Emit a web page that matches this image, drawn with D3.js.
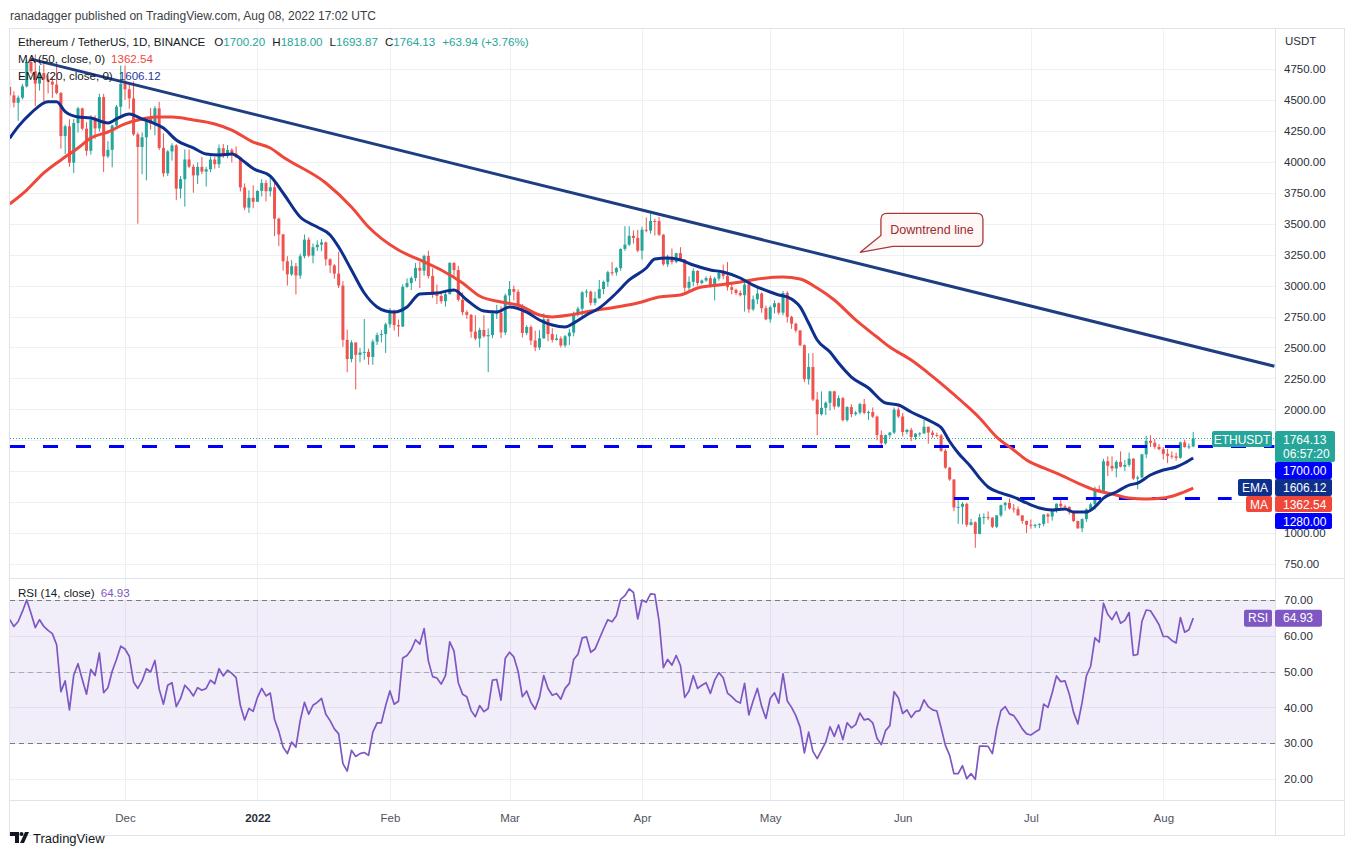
<!DOCTYPE html>
<html>
<head>
<meta charset="utf-8">
<script src="https://cdn.jsdelivr.net/npm/d3@7/dist/d3.min.js"></script>
<style>
  body { margin: 0; background: #fff; }
  text { font-family: "Liberation Sans", Arial, sans-serif; }
</style>
</head>
<body>
<svg id="chart" width="1351" height="856"></svg>
<script>
// ---- data: daily candles [day, open, high, low, close] per month ----
const candlesNov = [
  [4,4605,4669,4430,4537],[5,4537,4570,4440,4477],[6,4477,4536,4331,4518],[7,4518,4630,4505,4610],
  [8,4610,4822,4600,4807],[9,4807,4838,4713,4731],[10,4731,4868,4450,4632],[11,4632,4778,4576,4717],
  [12,4717,4808,4488,4666],[13,4666,4700,4552,4647],[14,4647,4680,4516,4624],[15,4624,4773,4545,4556],
  [16,4556,4564,4106,4208],[17,4208,4301,4063,4287],[18,4287,4343,3960,3993],[19,3993,4346,3909,4313],
  [20,4313,4445,4237,4432],[21,4432,4438,4255,4268],[22,4268,4320,4050,4089],[23,4089,4377,4058,4339],
  [24,4339,4375,4185,4270],[25,4270,4550,4245,4523],[26,4523,4550,3917,4044],[27,4044,4167,4030,4097],
  [28,4097,4300,3956,4294],[29,4294,4460,4280,4445],[30,4445,4778,4350,4631]
];
const candlesDec = [
  [1,4631,4778,4500,4586],[2,4586,4632,4428,4512],[3,4512,4650,4210,4222],[4,4222,4238,3500,4120],
  [5,4120,4238,3900,4198],[6,4198,4362,3850,4347],[7,4347,4435,4260,4308],[8,4308,4450,4215,4432],
  [9,4432,4485,4095,4112],[10,4112,4230,3880,3907],[11,3907,4095,3885,4084],[12,4084,4150,4010,4133],
  [13,4133,4142,3690,3783],[14,3783,3884,3705,3860],[15,3860,4100,3638,4019],[16,4019,4100,3950,3961],
  [17,3961,3980,3750,3890],[18,3890,3995,3820,3959],[19,3959,4040,3900,3921],[20,3921,3960,3800,3940],
  [21,3940,4045,3916,4018],[22,4018,4040,3945,3981],[23,3981,4140,3950,4110],[24,4110,4144,4030,4047],
  [25,4047,4135,4030,4096],[26,4096,4110,3995,4066],[27,4066,4125,4035,4037],[28,4037,4040,3760,3793],
  [29,3793,3825,3610,3630],[30,3630,3770,3588,3709],[31,3709,3810,3625,3677]
];
const candlesJan = [
  [1,3677,3770,3677,3765],[2,3765,3860,3720,3829],[3,3829,3852,3680,3762],[4,3762,3878,3720,3794],
  [5,3794,3842,3400,3540],[6,3540,3550,3318,3413],[7,3413,3418,3120,3196],[8,3196,3237,3000,3091],
  [9,3091,3205,3078,3156],[10,3156,3183,2928,3081],[11,3081,3257,3055,3237],[12,3237,3412,3220,3371],
  [13,3371,3390,3230,3242],[14,3242,3340,3180,3310],[15,3310,3365,3280,3330],[16,3330,3375,3278,3349],
  [17,3349,3356,3160,3212],[18,3212,3220,3100,3163],[19,3163,3173,3055,3096],[20,3096,3273,2980,3000],
  [21,3000,3036,2505,2561],[22,2561,2644,2300,2406],[23,2406,2557,2380,2540],[24,2540,2540,2160,2440],
  [25,2440,2495,2380,2459],[26,2459,2730,2400,2464],[27,2464,2490,2360,2423],[28,2423,2565,2360,2547],
  [29,2547,2620,2520,2600],[30,2600,2640,2541,2608],[31,2608,2700,2456,2687]
];
const candlesFeb = [
  [1,2687,2818,2660,2791],[2,2791,2806,2637,2680],[3,2680,2726,2587,2669],[4,2669,3010,2666,2990],
  [5,2990,3058,2982,3020],[6,3020,3074,2964,3061],[7,3061,3182,3035,3143],[8,3143,3191,2980,3120],
  [9,3120,3250,3080,3240],[10,3240,3282,3057,3077],[11,3077,3140,2900,2929],[12,2929,3009,2850,2916],
  [13,2916,2955,2853,2873],[14,2873,2950,2830,2930],[15,2930,3190,2930,3182],[16,3182,3190,3075,3125],
  [17,3125,3160,2872,2885],[18,2885,2945,2760,2785],[19,2785,2800,2730,2763],[20,2763,2770,2578,2628],
  [21,2628,2760,2558,2572],[22,2572,2660,2500,2641],[23,2641,2760,2580,2590],[24,2590,2653,2300,2600],
  [25,2600,2800,2575,2773],[26,2773,2845,2730,2780],[27,2780,2834,2575,2621],[28,2621,2935,2600,2920]
];
const candlesMar = [
  [1,2920,3036,2860,2972],[2,2972,3000,2880,2950],[3,2950,2970,2805,2834],[4,2834,2850,2580,2617],
  [5,2617,2680,2600,2665],[6,2665,2680,2520,2556],[7,2556,2635,2470,2500],[8,2500,2640,2480,2574],
  [9,2574,2775,2570,2728],[10,2728,2735,2550,2608],[11,2608,2655,2540,2561],[12,2561,2605,2555,2572],
  [13,2572,2590,2500,2516],[14,2516,2600,2500,2590],[15,2590,2650,2520,2620],[16,2620,2790,2590,2773],
  [17,2773,2830,2750,2813],[18,2813,2955,2750,2945],[19,2945,2970,2905,2951],[20,2951,2960,2840,2860],
  [21,2860,2950,2840,2897],[22,2897,3045,2895,2971],[23,2971,3040,2930,3030],[24,3030,3120,2990,3108],
  [25,3108,3190,3080,3106],[26,3106,3150,3080,3141],[27,3141,3300,3120,3296],[28,3296,3480,3280,3331],
  [29,3331,3480,3320,3402],[30,3402,3446,3340,3385],[31,3385,3450,3270,3282]
];
const candlesApr = [
  [1,3282,3475,3210,3451],[2,3451,3550,3430,3444],[3,3444,3580,3420,3522],[4,3522,3540,3405,3521],
  [5,3521,3555,3400,3411],[6,3411,3415,3160,3172],[7,3172,3250,3150,3233],[8,3233,3300,3170,3190],
  [9,3190,3265,3180,3262],[10,3262,3310,3200,3209],[11,3209,3215,2950,2982],[12,2982,3075,2950,3030],
  [13,3030,3140,2995,3118],[14,3118,3125,3000,3020],[15,3020,3050,3010,3041],[16,3041,3075,3030,3060],
  [17,3060,3080,2985,2990],[18,2990,3070,2880,3057],[19,3057,3120,3040,3104],[20,3104,3170,3050,3078],
  [21,3078,3190,2960,2987],[22,2987,3030,2930,2965],[23,2965,2975,2925,2940],[24,2940,2960,2912,2922],
  [25,2922,3030,2790,3008],[26,3008,3040,2780,2808],[27,2808,2920,2795,2889],[28,2889,2980,2850,2936],
  [29,2936,2945,2780,2817],[30,2817,2838,2720,2727]
];
const candlesMay = [
  [1,2727,2840,2700,2825],[2,2825,2880,2775,2857],[3,2857,2865,2765,2781],[4,2781,2955,2760,2940],
  [5,2940,2955,2700,2747],[6,2747,2755,2650,2692],[7,2692,2700,2620,2637],[8,2637,2640,2510,2518],
  [9,2518,2525,2220,2243],[10,2243,2452,2200,2342],[11,2342,2455,2066,2079],[12,2079,2140,1790,1960],
  [13,1960,2145,1950,2012],[14,2012,2064,1954,2053],[15,2053,2150,1990,2145],[16,2145,2150,2000,2023],
  [17,2023,2112,2015,2090],[18,2090,2100,1902,1913],[19,1913,2025,1900,2018],[20,2018,2040,1935,1961],
  [21,1961,1988,1948,1974],[22,1974,2053,1960,2042],[23,2042,2085,1960,1972],[24,1972,1990,1914,1978],
  [25,1978,2015,1930,1941],[26,1941,1950,1750,1793],[27,1793,1830,1700,1725],[28,1725,1795,1715,1791],
  [29,1791,1815,1771,1812],[30,1812,2015,1800,1997],[31,1997,2015,1930,1942]
];
const candlesJun = [
  [1,1942,1970,1781,1817],[2,1817,1843,1798,1834],[3,1834,1851,1743,1776],[4,1776,1805,1755,1804],
  [5,1804,1815,1780,1806],[6,1806,1918,1800,1859],[7,1859,1860,1722,1812],[8,1812,1830,1770,1793],
  [9,1793,1812,1775,1789],[10,1789,1800,1656,1665],[11,1665,1680,1520,1529],[12,1529,1535,1422,1433],
  [13,1433,1435,1176,1207],[14,1207,1270,1075,1212],[15,1212,1250,1071,1236],[16,1236,1245,1050,1067],
  [17,1067,1115,1060,1087],[18,1087,1094,881,993],[19,993,1156,990,1127],[20,1127,1159,1070,1129],
  [21,1129,1175,1105,1124],[22,1124,1129,1040,1051],[23,1051,1145,1040,1143],[24,1143,1230,1130,1225],
  [25,1225,1250,1180,1244],[26,1244,1280,1190,1199],[27,1199,1235,1165,1193],[28,1193,1215,1140,1143],
  [29,1143,1145,1075,1098],[30,1098,1100,1000,1067]
];
const candlesJul = [
  [1,1067,1110,1035,1059],[2,1059,1075,1040,1067],[3,1067,1079,1040,1074],[4,1074,1152,1055,1150],
  [5,1150,1162,1080,1134],[6,1134,1194,1100,1187],[7,1187,1240,1165,1237],[8,1237,1270,1200,1216],
  [9,1216,1230,1205,1212],[10,1212,1215,1150,1168],[11,1168,1170,1090,1097],[12,1097,1100,1035,1038],
  [13,1038,1118,1007,1113],[14,1113,1200,1090,1192],[15,1192,1245,1180,1232],[16,1232,1375,1190,1355],
  [17,1355,1385,1330,1339],[18,1339,1600,1338,1580],[19,1580,1620,1460,1543],[20,1543,1620,1500,1522],
  [21,1522,1588,1450,1575],[22,1575,1660,1530,1536],[23,1536,1590,1500,1551],[24,1551,1650,1535,1601],
  [25,1601,1605,1430,1440],[26,1440,1465,1356,1450],[27,1450,1640,1445,1636],[28,1636,1785,1605,1745],
  [29,1745,1790,1695,1730],[30,1730,1760,1680,1697],[31,1697,1720,1670,1678]
];
const candlesAug = [
  [1,1678,1695,1595,1640],[2,1640,1680,1565,1625],[3,1625,1660,1600,1620],[4,1620,1650,1585,1608],
  [5,1608,1740,1600,1733],[6,1733,1755,1690,1695],[7,1695,1725,1680,1700.2],[8,1700.2,1818,1693.87,1764.13]
];

// RSI(14) per day, same days as the candles
const rsiNov = [64.6,62.6,64,66.8,70,66.3,62.3,64.5,62.6,61.5,60.6,57.5,44.4,47.4,39.3,49,52.2,47.8,43.7,50.6,48.9,55.2,44.1,45.5,50.1,53.4,57.1];
const rsiDec = [56.3,54.3,47.1,45.3,47.4,50.8,49.9,53.1,45.1,40.9,46.2,46.9,40.2,42.5,46.2,44.9,43.2,45.5,44.8,45.3,47.6,46.6,50.8,48.8,50.4,49.5,48.3,40.5,36.5,39.7,38.9];
const rsiJan = [42.8,45.3,43.2,44,36.6,33.3,28.9,27.1,30.3,28.9,36.3,41.4,38.1,40.6,41.4,42.5,38.1,36.3,34,32.6,24.3,22.2,28,26.3,27.1,27.4,26.6,33.1,35.7,35.7,40.5];
const rsiFeb = [44.6,40.9,41.7,53.8,54.5,56.1,58.9,57.7,62,53,48.6,48.2,46.5,48.9,58.3,55.7,46.9,43.7,43,39.1,37.4,40.5,38.8,39.7,47.6,47.8,42,53.7];
const rsiMar = [55.4,54.1,50.1,43,44.6,41.4,39.5,42.8,48.9,45.3,43.4,43.9,42.3,45.3,46.7,53.4,54.8,59.4,59.7,55.4,56.3,59.1,61.9,64.5,63.9,65.6,70.2,71.2,73.1,72.1,64.7];
const rsiApr = [70,69.4,71.7,71.6,64,51.1,53.4,51.8,54.5,51.7,42.8,44.6,48.9,45.3,46.2,46.9,43.9,47.6,49.7,48.3,44,43,41.8,41.2,46.7,37.9,41.8,45.3,40.3,36.9];
const rsiMay = [42.5,44.1,41.2,49.4,41.8,40,37.7,34.5,27.3,33.1,27.7,25.7,28,30.3,34.6,31.9,35.1,31,35.7,34.3,35.2,38.4,36.5,36.8,35.7,31.4,29.6,33.5,34.9,44.4,42.6];
const rsiJun = [38.3,39.3,37.2,38.8,39.1,42.1,40.2,39.3,39,34.3,29.4,26.6,21.5,21.5,23.7,20.1,21.5,19.9,29.2,29.2,29.1,27.1,34,39.1,40.2,38.2,37.7,36,34,32.6];
const rsiJul = [32.3,33.1,33.8,40.9,40,44.1,48.8,47.2,47.4,43.7,38.6,35.4,41.4,48.8,51.5,59.4,58.2,69.1,66,64.5,66.7,63.5,64.3,66.5,54.5,54.8,64,67.2,67,65.1,63.1];
const rsiAug = [59.8,59.8,58.7,58,65.1,61,61.7,64.93];

// EMA(20) and MA(50): [date, value]
const emaPoints = [
  ['2021-11-04',4190],['2021-11-06',4284],['2021-11-09',4394],['2021-11-13',4486],['2021-11-15',4486],
  ['2021-11-17',4405],['2021-11-20',4362],['2021-11-23',4354],['2021-11-27',4314],['2021-11-29',4346],
  ['2021-12-02',4386],['2021-12-05',4346],['2021-12-07',4322],['2021-12-10',4273],['2021-12-13',4176],
  ['2021-12-17',4112],['2021-12-20',4063],['2021-12-23',4055],['2021-12-26',4063],['2021-12-29',3998],
  ['2021-12-31',3945],['2022-01-04',3885],['2022-01-07',3748],['2022-01-11',3554],['2022-01-15',3473],
  ['2022-01-18',3409],['2022-01-20',3312],['2022-01-23',3126],['2022-01-26',2940],['2022-01-29',2827],
  ['2022-01-31',2794],['2022-02-02',2786],['2022-02-05',2827],['2022-02-08',2932],['2022-02-12',2940],
  ['2022-02-16',2964],['2022-02-19',2883],['2022-02-23',2794],['2022-02-26',2786],['2022-03-01',2827],
  ['2022-03-05',2786],['2022-03-08',2722],['2022-03-11',2681],['2022-03-14',2665],['2022-03-16',2697],
  ['2022-03-19',2762],['2022-03-22',2819],['2022-03-26',2940],['2022-03-29',3045],['2022-04-02',3142],
  ['2022-04-04',3215],['2022-04-07',3223],['2022-04-10',3207],['2022-04-13',3166],['2022-04-17',3126],
  ['2022-04-20',3110],['2022-04-24',3061],['2022-04-27',3004],['2022-05-01',2948],['2022-05-03',2924],
  ['2022-05-05',2908],['2022-05-08',2827],['2022-05-10',2697],['2022-05-12',2560],['2022-05-15',2463],
  ['2022-05-17',2374],['2022-05-20',2261],['2022-05-24',2172],['2022-05-28',2051],['2022-05-31',2035],
  ['2022-06-03',1978],['2022-06-06',1930],['2022-06-08',1895],['2022-06-10',1853],['2022-06-12',1740],
  ['2022-06-14',1647],['2022-06-17',1534],['2022-06-19',1445],['2022-06-21',1372],['2022-06-24',1324],
  ['2022-06-27',1291],['2022-06-30',1243],['2022-07-03',1203],['2022-07-06',1186],['2022-07-09',1194],
  ['2022-07-11',1170],['2022-07-14',1170],['2022-07-16',1211],['2022-07-18',1283],['2022-07-21',1332],
  ['2022-07-24',1388],['2022-07-26',1404],['2022-07-29',1469],['2022-08-01',1510],['2022-08-04',1534],
  ['2022-08-06',1566],['2022-08-08',1606.12]
];
const maPoints = [
  ['2021-11-04',3659],['2021-11-08',3772],['2021-11-12',3910],['2021-11-16',4015],['2021-11-20',4112],
  ['2021-11-23',4192],['2021-11-27',4241],['2021-12-01',4306],['2021-12-05',4346],['2021-12-08',4362],
  ['2021-12-12',4362],['2021-12-17',4338],['2021-12-22',4306],['2021-12-26',4257],['2021-12-31',4160],
  ['2022-01-04',4112],['2022-01-07',4039],['2022-01-17',3829],['2022-01-23',3635],['2022-01-27',3473],
  ['2022-02-03',3287],['2022-02-08',3207],['2022-02-13',3126],['2022-02-18',3021],['2022-02-22',2916],
  ['2022-02-27',2867],['2022-03-03',2843],['2022-03-08',2762],['2022-03-11',2746],['2022-03-15',2762],
  ['2022-03-20',2794],['2022-03-26',2827],['2022-03-31',2859],['2022-04-05',2908],['2022-04-10',2924],
  ['2022-04-14',2980],['2022-04-19',3004],['2022-04-24',3029],['2022-04-28',3053],['2022-05-04',3069],
  ['2022-05-08',3053],['2022-05-12',2980],['2022-05-16',2883],['2022-05-21',2722],['2022-05-26',2584],
  ['2022-05-29',2503],['2022-06-03',2398],['2022-06-07',2293],['2022-06-11',2180],['2022-06-15',2059],
  ['2022-06-19',1930],['2022-06-23',1776],['2022-06-27',1671],['2022-06-30',1590],['2022-07-04',1526],
  ['2022-07-08',1469],['2022-07-12',1404],['2022-07-16',1348],['2022-07-20',1316],['2022-07-24',1283],
  ['2022-07-28',1275],['2022-08-01',1283],['2022-08-04',1308],['2022-08-08',1362.54]
];

// drawings
const trendPoints = [['2021-11-09',4830],['2022-08-27',2348]];
const hLevels = [
  { price: 1700, from: '2021-11-03', to: '2022-08-27' },
  { price: 1280, from: '2022-06-13', to: '2022-08-17' }
];
const calloutTip = ['2022-05-22', 3268];

// axis ticks
const monthTicks = ['2021-12-01','2022-01-01','2022-02-01','2022-03-01','2022-04-01','2022-05-01','2022-06-01','2022-07-01','2022-08-01'];
const monthLabels = ['Dec','2022','Feb','Mar','Apr','May','Jun','Jul','Aug'];
const priceTicks = d3.range(750, 4751, 250);
const hiddenPriceTicks = [1250, 1500, 1750]; // covered by the scale tags
const rsiTicks = [20, 30, 40, 50, 60, 70];

const lastPrice = 1764.13, emaLast = 1606.12, maLast = 1362.54, rsiLast = 64.93;
const changeText = '+63.94 (+3.76%)';

// ---- build ----
const parseDay = d3.utcParse('%Y-%m-%d');
const pad = n => String(n).padStart(2, '0');
const candleMonths = [
  ['2021-11', candlesNov], ['2021-12', candlesDec], ['2022-01', candlesJan], ['2022-02', candlesFeb],
  ['2022-03', candlesMar], ['2022-04', candlesApr], ['2022-05', candlesMay], ['2022-06', candlesJun],
  ['2022-07', candlesJul], ['2022-08', candlesAug]
];
const candles = [];
candleMonths.forEach(([ym, rows]) => rows.forEach(r => candles.push({
  date: parseDay(`${ym}-${pad(r[0])}`), o: r[1], h: r[2], l: r[3], c: r[4]
})));
const rsiValues = [].concat(rsiNov, rsiDec, rsiJan, rsiFeb, rsiMar, rsiApr, rsiMay, rsiJun, rsiJul, rsiAug);
const rsi = candles.map((d, i) => ({ date: d.date, v: rsiValues[i] }));

const svg = d3.select('#chart');
const plotL = 10, plotR = 1275;
const mainT = 29, mainB = 578, rsiT = 579, rsiB = 800;
const UP = '#26a69a', DOWN = '#ef5350', GRID = '#eef0f4', BORDER = '#e0e3eb';
const EMA_C = '#0e2f8c', MA_C = '#f0473b', LINE_BLUE = '#0000ff', RSI_C = '#7e57c2';

const x = d3.scaleUtc()
  .domain([parseDay('2021-12-01'), parseDay('2022-08-01')])
  .range([125, 1163.3]);
const y = d3.scaleLinear().domain([750, 4750]).range([564, 69]);
const yr = d3.scaleLinear().domain([20, 70]).range([779, 600]);

const defs = svg.append('defs');
defs.append('clipPath').attr('id', 'clipMain').append('rect')
  .attr('x', plotL).attr('y', mainT).attr('width', plotR - plotL).attr('height', mainB - mainT);
defs.append('clipPath').attr('id', 'clipRsi').append('rect')
  .attr('x', plotL).attr('y', rsiT).attr('width', plotR - plotL).attr('height', rsiB - rsiT);

// header
svg.append('text').attr('x', 10).attr('y', 20)
  .attr('font-size', 12).attr('fill', '#3a3d45')
  .text('ranadagger published on TradingView.com, Aug 08, 2022 17:02 UTC');

// grid
const grid = svg.append('g');
grid.selectAll('.hg').data(priceTicks).enter().append('line')
  .attr('x1', plotL).attr('x2', plotR)
  .attr('y1', d => Math.round(y(d)) + 0.5).attr('y2', d => Math.round(y(d)) + 0.5)
  .attr('stroke', GRID);
grid.selectAll('.rg').data(rsiTicks).enter().append('line')
  .attr('x1', plotL).attr('x2', plotR)
  .attr('y1', d => Math.round(yr(d)) + 0.5).attr('y2', d => Math.round(yr(d)) + 0.5)
  .attr('stroke', GRID);
grid.selectAll('.vg').data(monthTicks).enter().append('line')
  .attr('x1', d => Math.round(x(parseDay(d))) + 0.5).attr('x2', d => Math.round(x(parseDay(d))) + 0.5)
  .attr('y1', mainT).attr('y2', rsiB)
  .attr('stroke', GRID);

// ---- main pane ----
const main = svg.append('g').attr('clip-path', 'url(#clipMain)');

// last price dotted line
main.append('line')
  .attr('x1', plotL).attr('x2', plotR)
  .attr('y1', y(lastPrice)).attr('y2', y(lastPrice))
  .attr('stroke', UP).attr('stroke-dasharray', '1,2');

// candles
const cg = main.append('g');
cg.selectAll('.wick').data(candles).enter().append('rect')
  .attr('x', d => x(d.date) - 0.5).attr('width', 1)
  .attr('y', d => y(d.h)).attr('height', d => Math.max(1, y(d.l) - y(d.h)))
  .attr('fill', d => d.c >= d.o ? UP : DOWN);
cg.selectAll('.body').data(candles).enter().append('rect')
  .attr('x', d => x(d.date) - 1.5).attr('width', 3)
  .attr('y', d => y(Math.max(d.o, d.c)))
  .attr('height', d => Math.max(1, Math.abs(y(d.o) - y(d.c))))
  .attr('fill', d => d.c >= d.o ? UP : DOWN);

// horizontal levels
main.selectAll('.lvl').data(hLevels).enter().append('line')
  .attr('x1', d => Math.max(plotL, x(parseDay(d.from))))
  .attr('x2', d => Math.min(plotR, x(parseDay(d.to))))
  .attr('y1', d => y(d.price)).attr('y2', d => y(d.price))
  .attr('stroke', LINE_BLUE).attr('stroke-width', 3)
  .attr('stroke-dasharray', '15,18');

// moving averages
const avgLine = d3.line()
  .x(d => x(parseDay(d[0])))
  .y(d => y(d[1]))
  .curve(d3.curveMonotoneX);
main.append('path').attr('d', avgLine(maPoints))
  .attr('fill', 'none').attr('stroke', MA_C).attr('stroke-width', 3).attr('stroke-linejoin', 'round');
main.append('path').attr('d', avgLine(emaPoints))
  .attr('fill', 'none').attr('stroke', EMA_C).attr('stroke-width', 3).attr('stroke-linejoin', 'round');

// downtrend line
main.append('line')
  .attr('x1', x(parseDay(trendPoints[0][0]))).attr('y1', y(trendPoints[0][1]))
  .attr('x2', x(parseDay(trendPoints[1][0]))).attr('y2', y(trendPoints[1][1]))
  .attr('stroke', '#1f3e82').attr('stroke-width', 3);

// callout
const tipX = x(parseDay(calloutTip[0])), tipY = y(calloutTip[1]);
const bL = tipX + 21, bR = tipX + 123, bT = tipY - 39, bB = tipY - 6, r = 6;
main.append('path')
  .attr('d', `M${bL + r},${bT} H${bR - r} Q${bR},${bT} ${bR},${bT + r} V${bB - r} Q${bR},${bB} ${bR - r},${bB}
    H${bL + 12} L${tipX},${tipY} L${bL},${bB - 11} V${bT + r} Q${bL},${bT} ${bL + r},${bT} Z`)
  .attr('fill', '#fff6f6').attr('stroke', '#a8383b').attr('stroke-width', 1.3);
main.append('text')
  .attr('x', (bL + bR) / 2).attr('y', (bT + bB) / 2 + 4.5)
  .attr('text-anchor', 'middle').attr('font-size', 12.5).attr('fill', '#9c2a2e')
  .text('Downtrend line');

// legend (main)
const last = candles[candles.length - 1];
const LEG_FS = 11.6;
const leg = svg.append('text').attr('x', 18).attr('y', 46).attr('font-size', LEG_FS).attr('fill', '#131722');
leg.append('tspan').text('Ethereum / TetherUS, 1D, BINANCE');
[['O', last.o], ['H', last.h], ['L', last.l], ['C', last.c]].forEach(([k, v], i) => {
  leg.append('tspan').attr('dx', i === 0 ? 9 : 7).text(k);
  leg.append('tspan').attr('fill', UP).text(v.toFixed(2));
});
leg.append('tspan').attr('dx', 7).attr('fill', UP).text(changeText);

const legMa = svg.append('text').attr('x', 18).attr('y', 63).attr('font-size', LEG_FS).attr('fill', '#131722');
legMa.append('tspan').text('MA (50, close, 0)');
legMa.append('tspan').attr('dx', 6).attr('fill', MA_C).text(maLast.toFixed(2));
const legEma = svg.append('text').attr('x', 18).attr('y', 80).attr('font-size', LEG_FS).attr('fill', '#131722');
legEma.append('tspan').text('EMA (20, close, 0)');
legEma.append('tspan').attr('dx', 6).attr('fill', '#1c3aa0').text(emaLast.toFixed(2));

// ---- RSI pane ----
const rp = svg.append('g').attr('clip-path', 'url(#clipRsi)');
rp.append('rect')
  .attr('x', plotL).attr('width', plotR - plotL)
  .attr('y', yr(70)).attr('height', yr(30) - yr(70))
  .attr('fill', RSI_C).attr('fill-opacity', 0.1);
rp.selectAll('.band').data([70, 50, 30]).enter().append('line')
  .attr('x1', plotL).attr('x2', plotR)
  .attr('y1', d => Math.round(yr(d)) + 0.5).attr('y2', d => Math.round(yr(d)) + 0.5)
  .attr('stroke', '#787b86').attr('stroke-opacity', d => d === 50 ? 0.55 : 1)
  .attr('stroke-dasharray', '5,4');
rp.append('path')
  .attr('d', d3.line().x(d => x(d.date)).y(d => yr(d.v))(rsi))
  .attr('fill', 'none').attr('stroke', RSI_C).attr('stroke-width', 1.7).attr('stroke-linejoin', 'round');

const legRsi = svg.append('text').attr('x', 18).attr('y', 597).attr('font-size', LEG_FS).attr('fill', '#131722');
legRsi.append('tspan').text('RSI (14, close)');
legRsi.append('tspan').attr('dx', 6).attr('fill', RSI_C).text(rsiLast.toFixed(2));

// ---- frame ----
svg.append('rect').attr('x', 9.5).attr('y', 28.5).attr('width', 1335).attr('height', 807)
  .attr('fill', 'none').attr('stroke', BORDER);
svg.append('line').attr('x1', 9.5).attr('x2', 1344.5).attr('y1', 578.5).attr('y2', 578.5).attr('stroke', BORDER);
svg.append('line').attr('x1', 9.5).attr('x2', 1344.5).attr('y1', 800.5).attr('y2', 800.5).attr('stroke', BORDER);
svg.append('line').attr('x1', 1275.5).attr('x2', 1275.5).attr('y1', 28.5).attr('y2', 835.5).attr('stroke', BORDER);

// ---- axes ----
const fmt2 = d3.format('.2f');
const pAxis = svg.append('g').attr('transform', `translate(${plotR},0)`)
  .call(d3.axisRight(y).tickValues(priceTicks.filter(v => !hiddenPriceTicks.includes(v)))
    .tickSize(0).tickPadding(9).tickFormat(fmt2));
const rAxis = svg.append('g').attr('transform', `translate(${plotR},0)`)
  .call(d3.axisRight(yr).tickValues(rsiTicks).tickSize(0).tickPadding(9).tickFormat(fmt2));
const tAxis = svg.append('g').attr('transform', `translate(0,${rsiB})`)
  .call(d3.axisBottom(x).tickValues(monthTicks.map(parseDay)).tickSize(0).tickPadding(14)
    .tickFormat((d, i) => monthLabels[i]));
[pAxis, rAxis, tAxis].forEach(a => {
  a.select('.domain').remove();
  a.selectAll('text').attr('font-family', '"Liberation Sans", Arial, sans-serif')
    .attr('font-size', 11.5).attr('fill', '#2a2e39');
});
tAxis.selectAll('text')
  .attr('font-weight', (d, i) => monthLabels[i] === '2022' ? 'bold' : null)
  .attr('fill', (d, i) => monthLabels[i] === '2022' ? '#2a2e39' : '#50535e');
svg.append('text').attr('x', 1285).attr('y', 45).attr('font-size', 11.5).attr('fill', '#2a2e39').text('USDT');

// ---- price scale labels ----
function tag(x0, yTop, w, h, fill, lines, anchor) {
  const g = svg.append('g');
  g.append('rect').attr('x', x0).attr('y', yTop).attr('width', w).attr('height', h)
    .attr('fill', fill).attr('rx', 2);
  lines.forEach((t, i) => {
    g.append('text')
      .attr('x', anchor === 'middle' ? x0 + w / 2 : x0 + 8)
      .attr('y', yTop + 12.5 + i * 14.5)
      .attr('text-anchor', anchor || 'start')
      .attr('font-size', 12).attr('fill', '#fff')
      .text(t);
  });
}
const lastTop = y(lastPrice) - 7.5;
tag(1212, lastTop, 60, 16, UP, ['ETHUSDT'], 'middle');
tag(1275, lastTop, 60, 31, UP, [lastPrice.toFixed(2), '06:57:20']);
tag(1275, lastTop + 31, 57, 17, LINE_BLUE, [fmt2(hLevels[0].price)]);
tag(1238, lastTop + 48, 34, 17, EMA_C, ['EMA'], 'middle');
tag(1275, lastTop + 48, 57, 17, EMA_C, [fmt2(emaLast)]);
tag(1246, lastTop + 65, 26, 16, MA_C, ['MA'], 'middle');
tag(1275, lastTop + 65, 57, 16, MA_C, [fmt2(maLast)]);
tag(1275, lastTop + 82, 57, 16, LINE_BLUE, [fmt2(hLevels[1].price)]);
tag(1244, yr(rsiLast) - 8.5, 28, 17, RSI_C, ['RSI'], 'middle');
tag(1275, yr(rsiLast) - 8.5, 47, 17, RSI_C, [fmt2(rsiLast)]);

// ---- footer logo ----
const logo = svg.append('g').attr('fill', '#131722');
logo.append('path').attr('d', 'M10,832 h9 v11 h-4 v-7 h-5 z');
logo.append('circle').attr('cx', 21.5).attr('cy', 834).attr('r', 2);
logo.append('path').attr('d', 'M20,843 L25,832 H29 L24,843 Z');
svg.append('text').attr('x', 33).attr('y', 843).attr('font-size', 13).attr('fill', '#131722').text('TradingView');
</script>
</body>
</html>
